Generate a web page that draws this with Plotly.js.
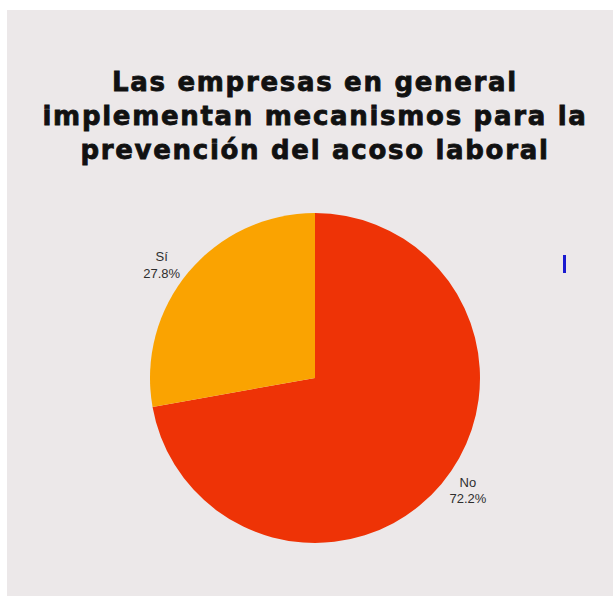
<!DOCTYPE html>
<html>
<head>
<meta charset="utf-8">
<script src="https://cdn.plot.ly/plotly-3.0.1.min.js"></script>
<style>
  html, body { margin: 0; padding: 0; background: #ffffff; }
  #chart { position: absolute; left: 7px; top: 10px; width: 606px; height: 586px; }
  #chart .gtitle { letter-spacing: 1.7px; stroke: #111111; stroke-width: 0.8px; }
</style>
</head>
<body>
<div id="chart"></div>
<script>
const categories = ['No', 'Sí'];
const values = [72.2, 27.8];
const sliceColors = ['#ee3306', '#faa301'];
const titleLines = ['Las empresas en general', 'implementan mecanismos para la', 'prevención del acoso laboral'];

const trace = {
  type: 'pie',
  labels: categories,
  values: values,
  sort: false,
  direction: 'clockwise',
  rotation: 0,
  marker: { colors: sliceColors, line: { width: 0 } },
  textinfo: 'label+percent',
  textposition: 'outside',
  texttemplate: '%{label}<br>%{percent:.1%}',
  outsidetextfont: { family: 'Liberation Sans, Arial, sans-serif', size: 13, color: '#2e2e2e' },
  hoverinfo: 'none',
  showlegend: false,
  automargin: false,
  domain: { x: [143/606, 473/606], y: [53/586, 383/586] }
};

const layout = {
  width: 606,
  height: 586,
  margin: { l: 0, r: 0, t: 0, b: 0 },
  paper_bgcolor: '#ece8e9',
  plot_bgcolor: '#ece8e9',
  title: {
    text: '<b>' + titleLines.join('<br>') + '</b>',
    x: 308/606,
    xanchor: 'center',
    y: 1 - 81/586,
    yanchor: 'top',
    font: { family: 'DejaVu Sans, sans-serif', size: 26, color: '#111111' }
  },
  shapes: [{
    type: 'rect', xref: 'paper', yref: 'paper',
    x0: 556/606, x1: 559/606, y0: (586-263)/586, y1: (586-245)/586,
    fillcolor: '#1a1ad0', line: { width: 0 }
  }],
  showlegend: false
};

Plotly.newPlot('chart', [trace], layout, { displayModeBar: false, staticPlot: true });
</script>
</body>
</html>
